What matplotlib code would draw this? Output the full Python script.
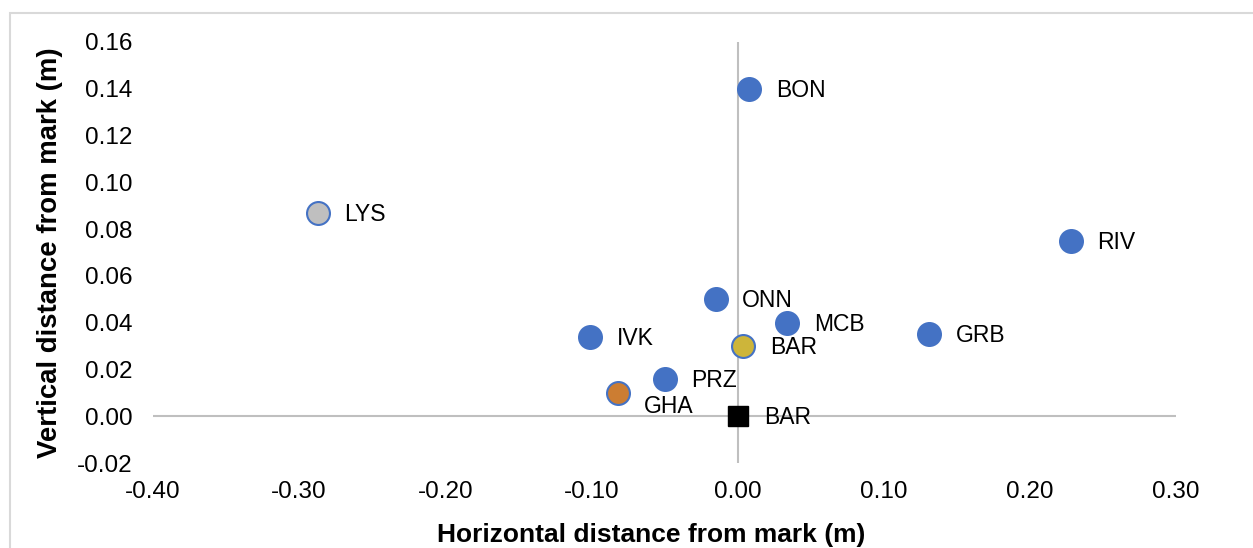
import matplotlib
matplotlib.use("Agg")
import matplotlib.pyplot as plt
from matplotlib.patches import Rectangle

plt.rcParams['font.family'] = ['Liberation Sans', 'DejaVu Sans']

# station offsets from the mark (m)
stations = ["BON", "LYS", "RIV", "ONN", "MCB", "IVK", "GRB", "PRZ"]
horiz = [0.008, -0.287, 0.228, -0.015, 0.034, -0.101, 0.131, -0.050]
vert = [0.140, 0.087, 0.075, 0.050, 0.040, 0.034, 0.035, 0.016]

# highlighted stations
lys_idx = 1
gha_x, gha_y = -0.082, 0.010
bar_x, bar_y = 0.004, 0.030
mark_x, mark_y = 0.0, 0.0

blue = "#4472C4"
fig = plt.figure(figsize=(12.53, 5.48), dpi=100)
ax = fig.add_axes([0.1221, 0.1551, 0.8165, 0.7683])

ax.axhline(0, color="#BFBFBF", linewidth=1.5, zorder=1)
ax.axvline(0, color="#BFBFBF", linewidth=1.5, zorder=1)

for i, (name, x, y) in enumerate(zip(stations, horiz, vert)):
    face = "#BFBFBF" if i == lys_idx else blue
    ax.plot(x, y, "o", ms=16.5, mfc=face, mec=blue, mew=1.5, zorder=3)
    ax.annotate(name, (x, y), xytext=(19, -1), textcoords="offset points",
                ha="left", va="center", fontsize=16.5)

ax.plot(gha_x, gha_y, "o", ms=16.5, mfc="#CC7D32", mec=blue, mew=1.5, zorder=3)
ax.annotate("GHA", (gha_x, gha_y), xytext=(19, -10), textcoords="offset points",
            ha="left", va="center", fontsize=16.5)

ax.plot(bar_x, bar_y, "o", ms=16.5, mfc="#CDB53A", mec=blue, mew=1.5, zorder=3)
ax.annotate("BAR", (bar_x, bar_y), xytext=(19, -1), textcoords="offset points",
            ha="left", va="center", fontsize=16.5)

ax.plot(mark_x, mark_y, "s", ms=15, mfc="black", mec="black", zorder=3)
ax.annotate("BAR", (mark_x, mark_y), xytext=(19, -1), textcoords="offset points",
            ha="left", va="center", fontsize=16.5)

ax.set_xlim(-0.40, 0.30)
ax.set_ylim(-0.02, 0.16)
ax.set_xticks([-0.40, -0.30, -0.20, -0.10, 0.00, 0.10, 0.20, 0.30])
ax.set_yticks([-0.02, 0.00, 0.02, 0.04, 0.06, 0.08, 0.10, 0.12, 0.14, 0.16])
ax.xaxis.set_major_formatter(lambda v, p: f"{v:.2f}")
ax.yaxis.set_major_formatter(lambda v, p: f"{v:.2f}")
ax.tick_params(length=0, labelsize=17.5)
ax.tick_params(axis="x", pad=13)
ax.tick_params(axis="y", pad=15)
for s in ax.spines.values():
    s.set_visible(False)

ax.set_xlabel("Horizontal distance from mark (m)", fontsize=19, fontweight="bold", labelpad=14)
ax.xaxis.label.set_x(0.487)
ax.set_ylabel("Vertical distance from mark (m)", fontsize=19.8, fontweight="bold", labelpad=10)

# chart frame
fig.patches.append(Rectangle((10 / 1253, -0.1), 1.2, 0.1 + 1 - 13 / 548,
                             transform=fig.transFigure, fill=False,
                             edgecolor="#D9D9D9", linewidth=1.5))

fig.savefig("out.png", dpi=100)
